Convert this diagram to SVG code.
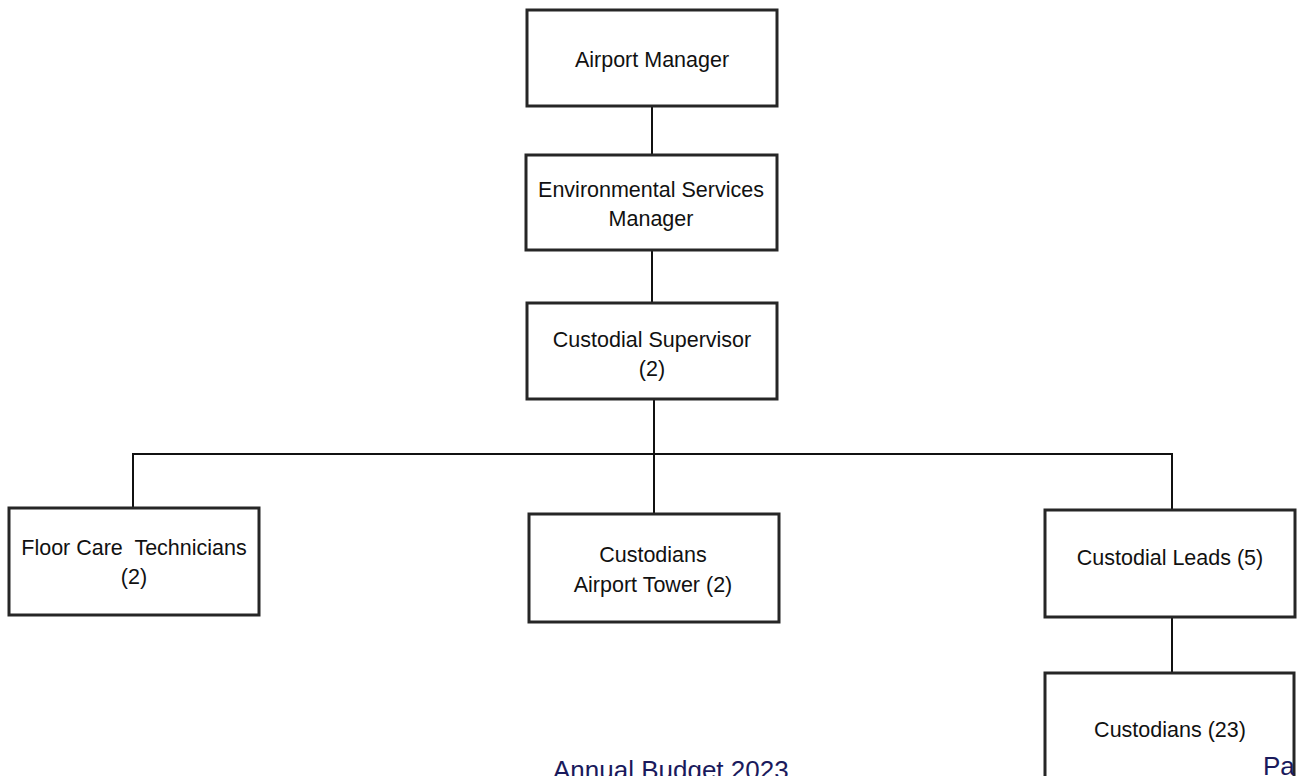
<svg xmlns="http://www.w3.org/2000/svg" width="1297" height="776" viewBox="0 0 1297 776">
<style>
.box{fill:#fff;stroke:#262626;stroke-width:3}
.lbl{font-family:"Liberation Sans",Arial,sans-serif;font-size:21.5px;fill:#111;text-anchor:middle}
.conn{stroke:#111;stroke-width:2;fill:none}
.foot{font-family:"Liberation Sans",Arial,sans-serif;font-size:26px;fill:#1a1a5c}
</style>
<rect width="1297" height="776" fill="#fff"/>
<g id="connectors">
<line class="conn" x1="652" y1="106" x2="652" y2="155"/>
<line class="conn" x1="652" y1="250" x2="652" y2="303"/>
<line class="conn" x1="654" y1="399" x2="654" y2="454"/>
<polyline class="conn" points="133,508 133,454 1172,454 1172,510"/>
<line class="conn" x1="654" y1="454" x2="654" y2="514"/>
<line class="conn" x1="1172" y1="617" x2="1172" y2="673"/>
</g>
<g id="airport-manager">
<rect class="box" x="527" y="10" width="250" height="96"/>
<text class="lbl" x="652" y="67">Airport Manager</text>
</g>
<g id="env-services-manager">
<rect class="box" x="526" y="155" width="251" height="95"/>
<text class="lbl" x="651" y="197">Environmental Services</text>
<text class="lbl" x="651" y="226">Manager</text>
</g>
<g id="custodial-supervisor">
<rect class="box" x="527" y="303" width="250" height="96"/>
<text class="lbl" x="652" y="347">Custodial Supervisor</text>
<text class="lbl" x="652" y="376">(2)</text>
</g>
<g id="floor-care">
<rect class="box" x="9" y="508" width="250" height="107"/>
<text class="lbl" x="134" y="555" xml:space="preserve">Floor Care  Technicians</text>
<text class="lbl" x="134" y="584">(2)</text>
</g>
<g id="custodians-tower">
<rect class="box" x="529" y="514" width="250" height="108"/>
<text class="lbl" x="653" y="562">Custodians</text>
<text class="lbl" x="653" y="592">Airport Tower (2)</text>
</g>
<g id="custodial-leads">
<rect class="box" x="1045" y="510" width="250" height="107"/>
<text class="lbl" x="1170" y="565">Custodial Leads (5)</text>
</g>
<g id="custodians">
<rect class="box" x="1045" y="673" width="249" height="130"/>
<text class="lbl" x="1170" y="737">Custodians (23)</text>
</g>
<text class="foot" x="553" y="779">Annual Budget 2023</text>
<text class="foot" x="1263" y="775">Pa</text>
</svg>
